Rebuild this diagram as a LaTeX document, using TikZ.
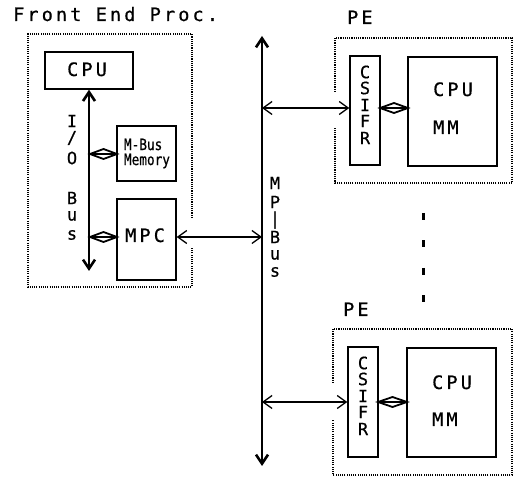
\documentclass[tikz,border=0pt]{standalone}
\usepackage{fontspec}
\usetikzlibrary{arrows.meta,calc}
\newfontfamily\plotfont[LetterSpace=17,FakeBold=0.6]{DejaVu Sans Mono}
\newfontfamily\vfont[FakeBold=0.6]{DejaVu Sans Mono}
\newfontfamily\condfont[FakeStretch=0.82,FakeBold=0.6]{DejaVu Sans Mono}
\tikzset{
  txt/.style={inner sep=0pt, font=\plotfont\fontsize{18.5}{20}\selectfont},
  vtxt/.style={inner sep=0pt, font=\vfont\fontsize{17}{19}\selectfont},
  smalltxt/.style={inner sep=0pt, font=\condfont\fontsize{15.5}{16}\selectfont, align=left},
  box/.style={draw, line width=1.4pt, inner sep=0pt},
  dotbox/.style={line width=2pt, dash pattern=on 1.1pt off 1.1pt},
  busline/.style={line width=2.6pt, {Straight Barb[length=9pt,width=12pt]}-{Straight Barb[length=9pt,width=12pt]}},
  thinarr/.style={line width=1.3pt, {Straight Barb[length=9pt,width=13pt]}-{Straight Barb[length=9pt,width=13pt]}},
  hdiam/.style={line width=1.8pt, line join=miter},
  dashline/.style={line width=3pt, dash pattern=on 7pt off 20.5pt}
}
\newcommand\hollowlink[2]{%
  \draw[hdiam] (#1) -- ($(#1)!0.5!(#2)+(0,-5)$) -- (#2) -- ($(#1)!0.5!(#2)+(0,5)$) -- cycle;
  \draw[hdiam] (#1) -- (#2);}
\begin{document}
\begin{tikzpicture}[x=1pt,y=-1pt]
\useasboundingbox (0,0) rectangle (515,478);
% Front end processor
\node[txt, anchor=base west] (feplbl) at (13,21) {Front End Proc.};
\draw[dotbox] (192,218) -- (192,34) -- (28,34) -- (28,287) -- (192,287) -- (192,248);
\node[box, minimum width=88pt, minimum height=37pt] (cpu) at (89,70.5) {};
\node[txt, anchor=base west] (cputxt) at (67,76) {CPU};
\node[box, minimum width=59pt, minimum height=55pt] (mbus) at (146.5,153.5) {};
\node[smalltxt, anchor=center] (mbustxt) at (147,153.5) {M-Bus\\[-1pt]Memory};
\node[box, minimum width=59pt, minimum height=81pt] (mpc) at (146.5,239.5) {};
\node[txt, anchor=base west] (mpctxt) at (125,242) {MPC};
% I/O bus
\coordinate (iobot) at (89,271);
\coordinate (iom) at (90,154);
\coordinate (iomb) at (117,154);
\coordinate (iompc) at (90,237);
\coordinate (iompcb) at (117,237);
\draw[busline] (cpu.south) -- (iobot);
\hollowlink{iom}{iomb}
\hollowlink{iompc}{iompcb}
\node[vtxt] (io1) at (72,121) {I};
\node[vtxt] (io2) at (72,138) {/};
\node[vtxt] (io3) at (72,158) {O};
\node[vtxt] (io4) at (72,198) {B};
\node[vtxt] (io5) at (72,216) {u};
\node[vtxt] (io6) at (72,235) {s};
% MP bus
\coordinate (mptop) at (262,36);
\coordinate (mpbot) at (262,466);
\draw[busline] (mptop) -- (mpbot);
\coordinate (mpa) at (262,237);
\coordinate (mpb) at (262,108);
\coordinate (mpc2) at (262,402);
\draw[thinarr] (mpc.east |- mpa) -- (mpa);
\node[vtxt] (mp1) at (275,183) {M};
\node[vtxt] (mp2) at (275,202) {P};
\node[vtxt] (mp3) at (275,220) {|};
\node[vtxt] (mp4) at (275,237) {B};
\node[vtxt] (mp5) at (275,255) {u};
\node[vtxt] (mp6) at (275,272) {s};
% top PE
\node[txt, anchor=base west] (pe1lbl) at (347,24) {PE};
\draw[dotbox] (335,92) -- (335,38) -- (512,38) -- (512,183) -- (335,183) -- (335,128);
\node[box, minimum width=30pt, minimum height=109pt] (cs1) at (365,110.5) {};
\node[box, minimum width=89pt, minimum height=109pt] (pc1) at (452.5,111.5) {};
\node[txt, anchor=base west] (pc1a) at (433,96) {CPU};
\node[txt, anchor=base west] (pc1b) at (433,134) {MM};
\node[vtxt] (c1a) at (365,72) {C};
\node[vtxt] (c1b) at (365,88) {S};
\node[vtxt] (c1c) at (365,105) {I};
\node[vtxt] (c1d) at (365,121) {F};
\node[vtxt] (c1e) at (365,138) {R};
\draw[thinarr] (mpb) -- (mpb -| cs1.west);
\coordinate (h1a) at (380,108);
\coordinate (h1b) at (408,108);
\hollowlink{h1a}{h1b}
% dashes
\coordinate (dtop) at (423,213);
\coordinate (dbot) at (423,302);
\draw[dashline] (dtop) -- (dbot);
% bottom PE
\node[txt, anchor=base west] (pe2lbl) at (343,316) {PE};
\draw[dotbox] (333,383) -- (333,329) -- (512,329) -- (512,475) -- (333,475) -- (333,420);
\node[box, minimum width=30pt, minimum height=110pt] (cs2) at (363,402) {};
\node[box, minimum width=89pt, minimum height=109pt] (pc2) at (451.5,402.5) {};
\node[txt, anchor=base west] (pc2a) at (432,389) {CPU};
\node[txt, anchor=base west] (pc2b) at (432,426) {MM};
\node[vtxt] (c2a) at (363,363) {C};
\node[vtxt] (c2b) at (363,379) {S};
\node[vtxt] (c2c) at (363,396) {I};
\node[vtxt] (c2d) at (363,412) {F};
\node[vtxt] (c2e) at (363,429) {R};
\draw[thinarr] (mpc2) -- (mpc2 -| cs2.west);
\coordinate (h2a) at (378,402);
\coordinate (h2b) at (407,402);
\hollowlink{h2a}{h2b}
\end{tikzpicture}
\end{document}
